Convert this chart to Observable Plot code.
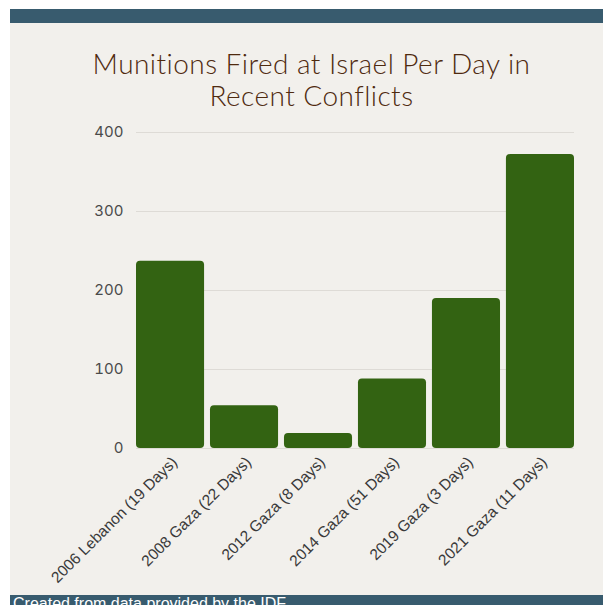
<!DOCTYPE html>
<html>
<head>
<meta charset="utf-8">
<script src="https://cdn.jsdelivr.net/npm/d3@7"></script>
<script src="https://cdn.jsdelivr.net/npm/@observablehq/plot@0.6"></script>
<style>
  html, body { margin: 0; padding: 0; background: #ffffff; }
  #frame { position: absolute; left: 10px; top: 9px; width: 593px; height: 596px; background: #f2f0ec; overflow: hidden; }
  #topbar { position: absolute; left: 0; top: 0; width: 593px; height: 14px; background: #385b6e; }
  .title { position: absolute; left: 0; width: 603px; text-align: center; font-family: Lato, sans-serif; font-size: 28px; letter-spacing: 0.45px; line-height: 28px; color: #4f2a0f; font-weight: 300; white-space: nowrap; }
  #t1 { top: 40px; }
  #t2 { top: 72px; }
  #chart { position: absolute; left: 0; top: 111px; }
  #bottombar { position: absolute; left: 0; top: 586px; width: 593px; height: 20px; background: #385b6e; }
  #caption { position: absolute; left: 3px; top: 0px; font-family: "Liberation Sans", Arial, sans-serif; font-size: 16px; line-height: 18px; color: #ffffff; white-space: nowrap; }
</style>
</head>
<body>
<div id="frame">
  <div id="topbar"></div>
  <div class="title" id="t1">Munitions Fired at Israel Per Day in</div>
  <div class="title" id="t2">Recent Conflicts</div>
  <div id="chart"></div>
  <div id="bottombar"><div id="caption">Created from data provided by the IDF</div></div>
</div>
<script>
const conflicts = ["2006 Lebanon (19 Days)", "2008 Gaza (22 Days)", "2012 Gaza (8 Days)", "2014 Gaza (51 Days)", "2019 Gaza (3 Days)", "2021 Gaza (11 Days)"];
const perDay = [237, 54, 19, 88, 190, 372];
const yTicks = [0, 100, 200, 300, 400];

const data = conflicts.map((c, i) => ({conflict: c, value: perDay[i]}));

const chart = Plot.plot({
  width: 593,
  height: 475,
  marginLeft: 126,
  marginRight: 29,
  marginTop: 12,
  marginBottom: 147,
  style: {background: "transparent", overflow: "visible"},
  x: {domain: conflicts, paddingInner: 0.08, paddingOuter: 0, round: false, label: null},
  y: {domain: [0, 400], label: null},
  marks: [
    Plot.gridY(yTicks, {stroke: "#dedbd6", strokeOpacity: 1, strokeWidth: 1}),
    Plot.barY(data, {x: "conflict", y: "value", fill: "#336312", rx: 4}),
    Plot.axisY(yTicks, {tickSize: 0, tickPadding: 13, fontSize: 15, fontFamily: "Inter, sans-serif", fill: "#4a4a4a", label: null}),
    Plot.axisX({tickRotate: -45, tickSize: 0, tickPadding: 11, dx: 4, fontSize: 15.5, fontFamily: "'Liberation Sans', Arial, sans-serif", fill: "#3a3a3a", label: null})
  ]
});
document.getElementById("chart").appendChild(chart);
</script>
</body>
</html>
